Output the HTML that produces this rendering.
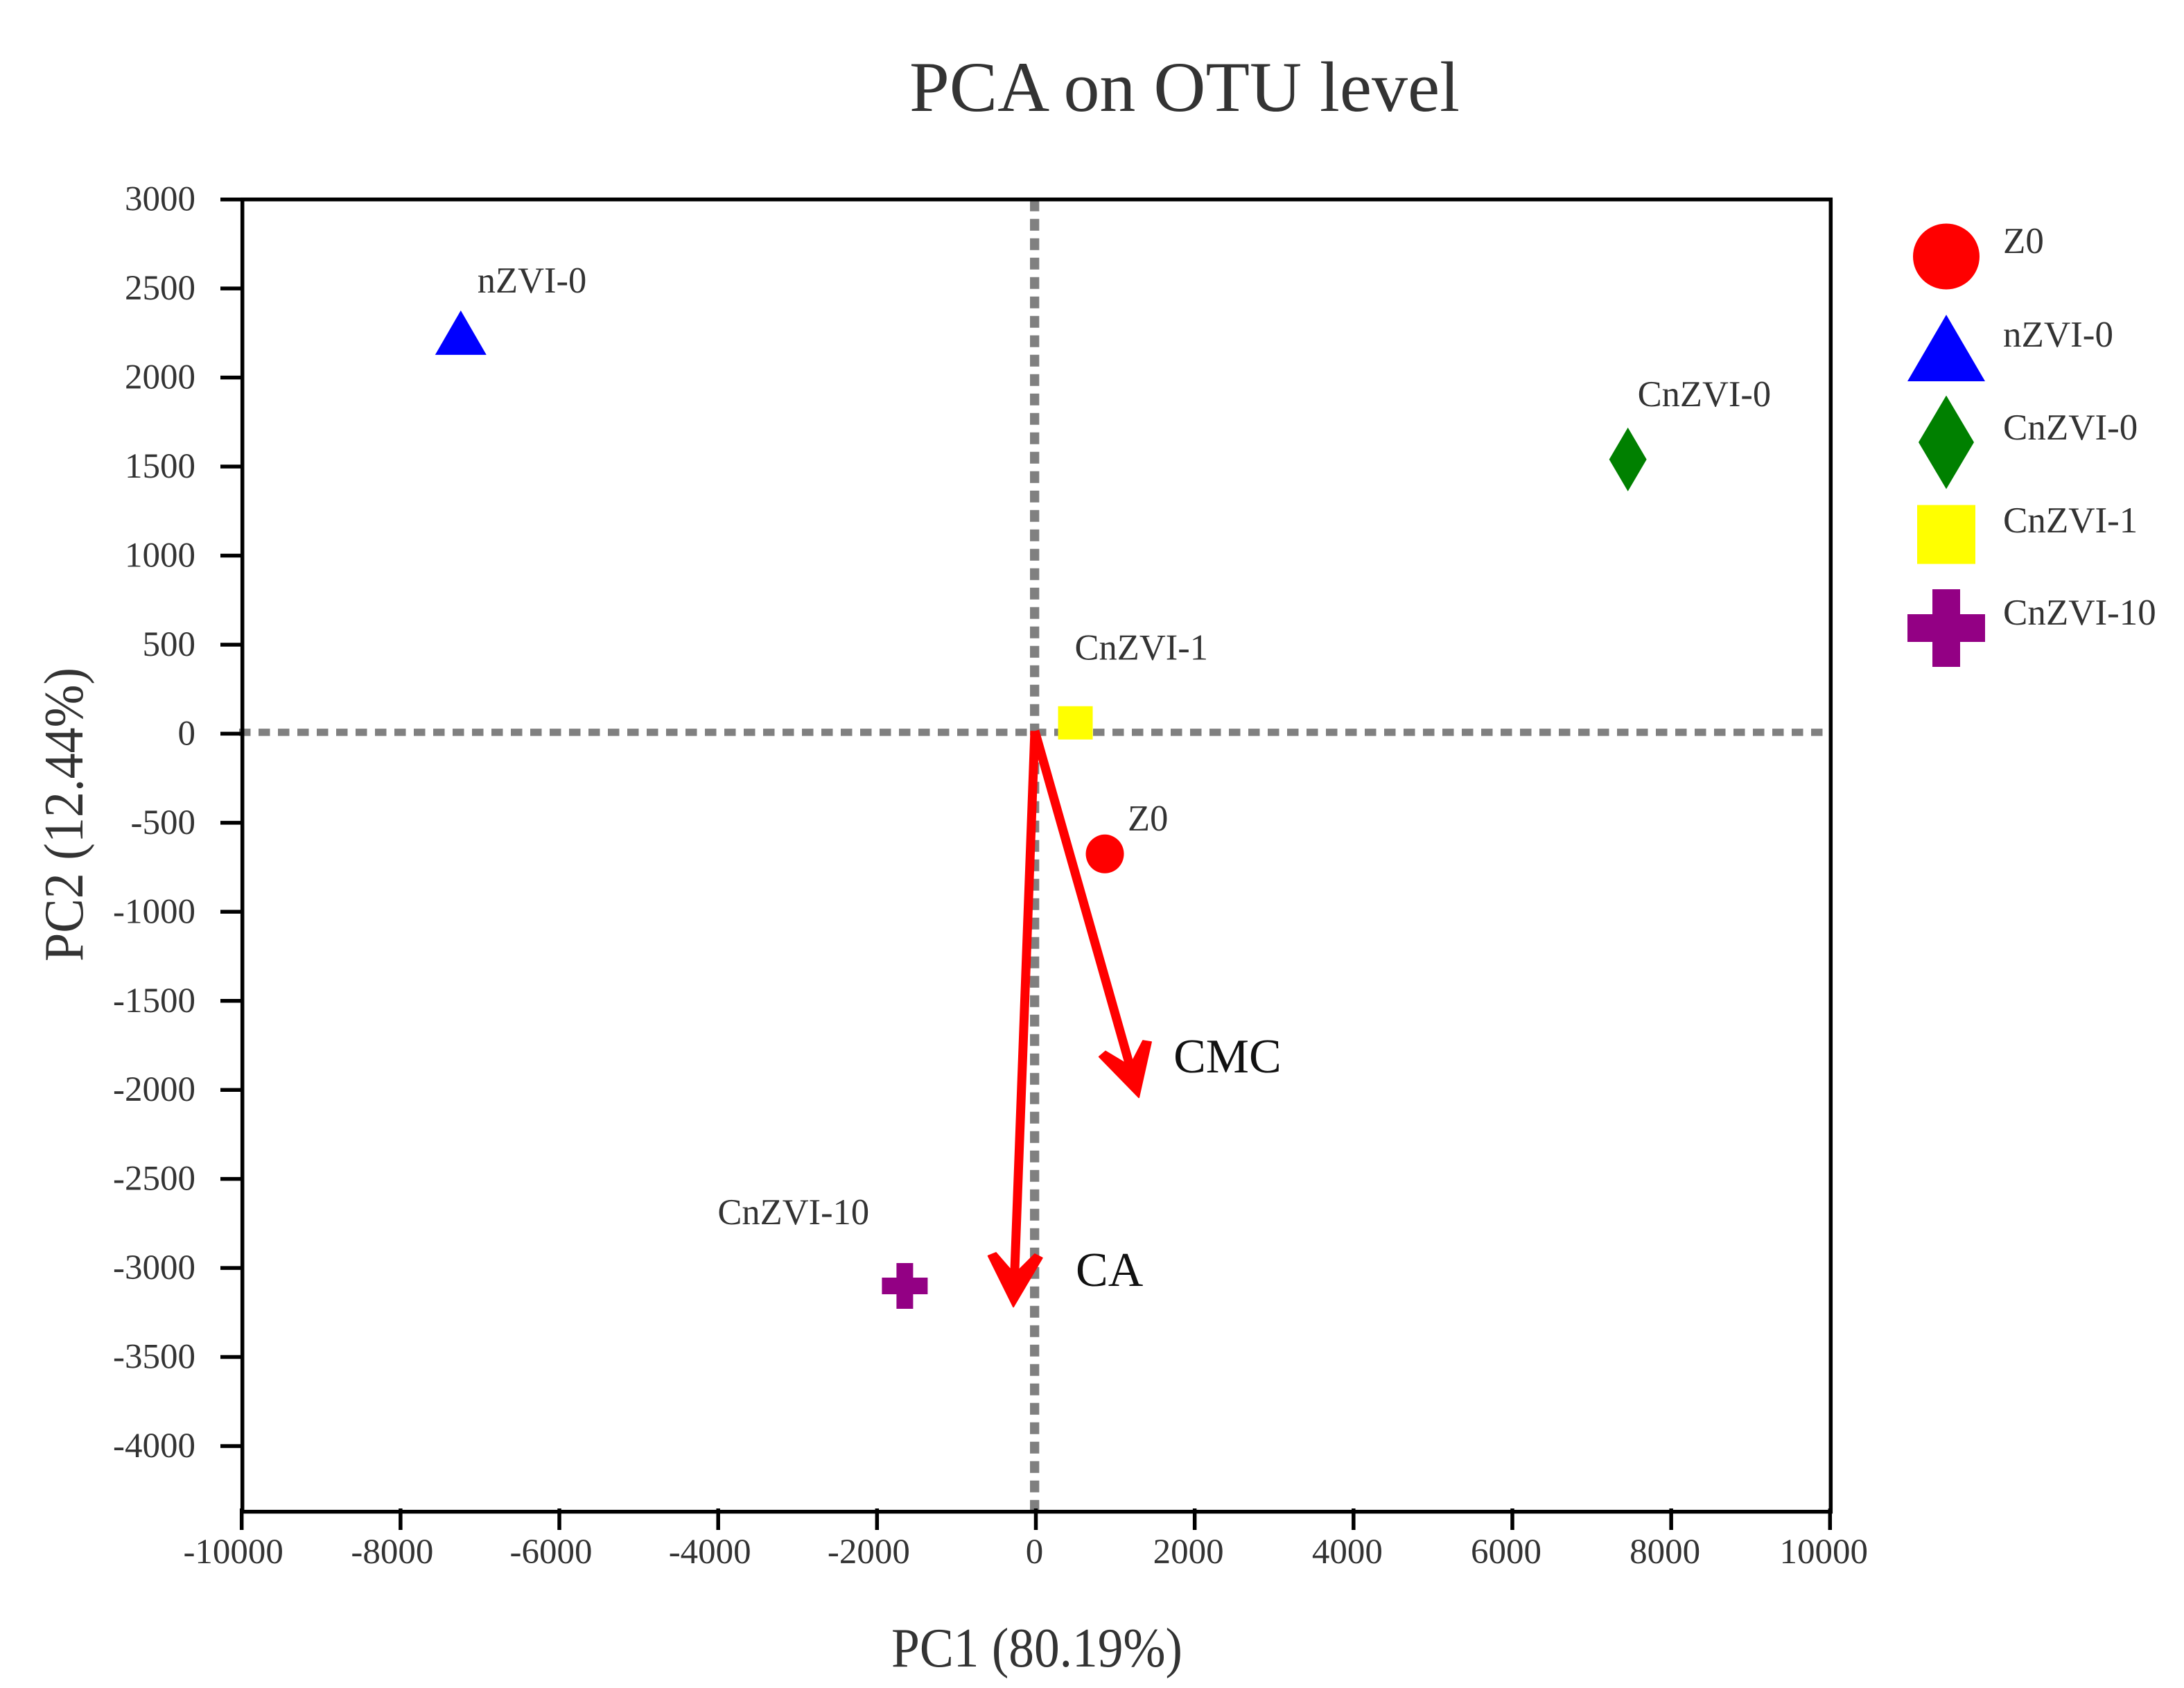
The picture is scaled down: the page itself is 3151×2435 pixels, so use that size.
<!DOCTYPE html>
<html lang="en">
<head>
<meta charset="utf-8">
<title>PCA on OTU level</title>
<style>
html,body{margin:0;padding:0;background:#fff;width:3151px;height:2435px;overflow:hidden}
svg{display:block}
text{font-family:"Liberation Serif","Times New Roman",serif;fill:#333}
</style>
</head>
<body>
<svg id="chart" xmlns="http://www.w3.org/2000/svg" width="3151" height="2435" viewBox="0 0 3151 2435">
  <rect x="0" y="0" width="3151" height="2435" fill="#fff"/>
  <text x="1312" y="160" font-size="103" textLength="794" lengthAdjust="spacingAndGlyphs">PCA on OTU level</text>
  <text x="1286" y="2404" font-size="80" textLength="420" lengthAdjust="spacingAndGlyphs">PC1 (80.19%)</text>
  <text transform="translate(119 1387) rotate(-90)" font-size="80" textLength="424" lengthAdjust="spacingAndGlyphs">PC2 (12.44%)</text>
  <g id="zero-lines"></g>
  <g id="axes"></g>
  <g id="points"></g>
  <g id="loadings"></g>
  <g id="legend"></g>
</svg>
<script>
// ---- chart data ----
const sampleNames = ["Z0", "nZVI-0", "CnZVI-0", "CnZVI-1", "CnZVI-10"];
const pc1Values = [860, -7250, 7446, 489, -1659];
const pc2Values = [-675, 2252, 1540, 61, -3101];
const loadingNames = ["CMC", "CA"];
const loadingPc1 = [1288, -292];
const loadingPc2 = [-2042, -3218];
const xTickValues = [-10000, -8000, -6000, -4000, -2000, 0, 2000, 4000, 6000, 8000, 10000];
const yTickValues = [3000, 2500, 2000, 1500, 1000, 500, 0, -500, -1000, -1500, -2000, -2500, -3000, -3500, -4000];

// ---- layout ----
const plot = {left: 349.7, right: 2641.3, top: 287.7, bottom: 2180.7};
const X = v => plot.left + (v + 10000) * (plot.right - plot.left) / 20000;
const Y = v => plot.top + (3000 - v) * (2086 - plot.top) / 7000;
const NS = "http://www.w3.org/2000/svg";
const shapeKinds = ["circle", "triangle", "diamond", "square", "plus"];
const shapeColors = ["#ff0000", "#0000ff", "#008000", "#ffff00", "#930084"];
const labelDx = [33, 24, 14, -1, -270];
const labelDy = [-34, -58, -77, -91, -89];

function make(tag, attrs, parent) {
  const el = document.createElementNS(NS, tag);
  for (const k in attrs) el.setAttribute(k, attrs[k]);
  parent.appendChild(el);
  return el;
}

function marker(kind, cx, cy, color, w, h, arm, parent) {
  if (kind === "circle") return make("ellipse", {cx: cx, cy: cy, rx: w / 2, ry: h / 2, fill: color}, parent);
  if (kind === "triangle") return make("polygon", {points: `${cx},${cy - h / 2} ${cx + w / 2},${cy + h / 2} ${cx - w / 2},${cy + h / 2}`, fill: color}, parent);
  if (kind === "diamond") return make("polygon", {points: `${cx},${cy - h / 2} ${cx + w / 2},${cy} ${cx},${cy + h / 2} ${cx - w / 2},${cy}`, fill: color}, parent);
  if (kind === "square") return make("rect", {x: cx - w / 2, y: cy - h / 2, width: w, height: h, fill: color}, parent);
  const a = arm / 2;
  const pts = [[-a, -h / 2], [a, -h / 2], [a, -a], [w / 2, -a], [w / 2, a], [a, a], [a, h / 2], [-a, h / 2], [-a, a], [-w / 2, a], [-w / 2, -a], [-a, -a]];
  return make("polygon", {points: pts.map(p => `${cx + p[0]},${cy + p[1]}`).join(" "), fill: color}, parent);
}

// ---- zero lines ----
const zeroGroup = document.getElementById("zero-lines");
const zeroH = make("line", {x1: 345, x2: plot.right, y1: Y(0) - 2, y2: Y(0) - 2, stroke: "#808080", "stroke-width": 10.5, "stroke-dasharray": "16.5 11.5"}, zeroGroup);


const zeroV = make("line", {x1: X(0) - 2.8, x2: X(0) - 2.8, y1: plot.top, y2: plot.bottom, stroke: "#808080", "stroke-width": 13.3, "stroke-dasharray": "17 11"}, zeroGroup);



// ---- axes ----
const axesGroup = document.getElementById("axes");
const frame = make("rect", {x: plot.left, y: plot.top, width: plot.right - plot.left, height: plot.bottom - plot.top, fill: "none", stroke: "#000", "stroke-width": 5.5}, axesGroup);



yTickValues.forEach(v => {
  const tick = make("line", {x1: 318, x2: plot.left, y1: Y(v), y2: Y(v), stroke: "#000", "stroke-width": 5.5}, axesGroup);
  
  
  const label = make("text", {x: 282, y: Y(v) + 16, "font-size": 51, "text-anchor": "end"}, axesGroup);
  label.textContent = String(v);
  
  
});

xTickValues.forEach(v => {
  const tick = make("line", {x1: X(v) - 1, x2: X(v) - 1, y1: 2176, y2: 2207, stroke: "#000", "stroke-width": 5.5}, axesGroup);
  
  
  const labelOffset = v === 0 ? -3 : (v < 0 ? -13 : -10);
  const label = make("text", {x: X(v) + labelOffset, y: 2255, "font-size": 51, "text-anchor": "middle"}, axesGroup);
  label.textContent = String(v);
  
  
});

// ---- sample points ----
const pointsGroup = document.getElementById("points");
const plotSizes = [[55, 56, 0], [74, 64, 0], [54, 92, 0], [50, 48, 0], [66, 66, 24]];
sampleNames.forEach((name, i) => {
  const cx = X(pc1Values[i]);
  const cy = Y(pc2Values[i]);
  const m = marker(shapeKinds[i], cx, cy, shapeColors[i], plotSizes[i][0], plotSizes[i][1], plotSizes[i][2], pointsGroup);
  
  
  const label = make("text", {x: cx + labelDx[i], y: cy + labelDy[i], "font-size": 52.5}, pointsGroup);
  label.textContent = name;
  
  
});

// ---- loading arrows ----
const loadingGroup = document.getElementById("loadings");
const loadingLabelDx = [50, 90];
const loadingLabelDy = [-36, -30];
loadingNames.forEach((name, i) => {
  const x0 = X(0) - 2.5, y0 = Y(0) - 4;
  const tx = X(loadingPc1[i]), ty = Y(loadingPc2[i]);
  const len = Math.hypot(tx - x0, ty - y0);
  const ux = (tx - x0) / len, uy = (ty - y0) / len;
  const shaft = make("line", {x1: x0, y1: y0, x2: tx - ux * 30, y2: ty - uy * 30, stroke: "#ff0000", "stroke-width": 13}, loadingGroup);
  
  
  // head outline: [distance back from tip, distance off the shaft axis]
  const headOutline = [[0, 0], [72, 39], [77, 28], [47, 0], [77, -28], [72, -39]];
  const headPts = headOutline.map(p => `${tx - ux * p[0] + uy * p[1]},${ty - uy * p[0] - ux * p[1]}`).join(" ");
  const head = make("polygon", {points: headPts, fill: "#ff0000", stroke: "#ff0000", "stroke-width": 2, "stroke-linejoin": "round"}, loadingGroup);
  
  
  const label = make("text", {x: tx + loadingLabelDx[i], y: ty + loadingLabelDy[i], "font-size": 70, style: "fill:#111"}, loadingGroup);
  label.textContent = name;
  
  
});

// ---- legend ----
const legendGroup = document.getElementById("legend");
const legendSizes = [[96, 95, 0], [112, 96, 0], [80, 135, 0], [84, 85, 0], [112, 112, 40]];
const legendCy = [370, 502, 638, 771, 906];
const legendBaseline = [365, 500, 634, 768, 901];
sampleNames.forEach((name, i) => {
  const m = marker(shapeKinds[i], 2808, legendCy[i], shapeColors[i], legendSizes[i][0], legendSizes[i][1], legendSizes[i][2], legendGroup);
  
  
  const t = make("text", {x: 2890, y: legendBaseline[i], "font-size": 53}, legendGroup);
  t.textContent = name;
  
  
});
</script>
</body>
</html>
